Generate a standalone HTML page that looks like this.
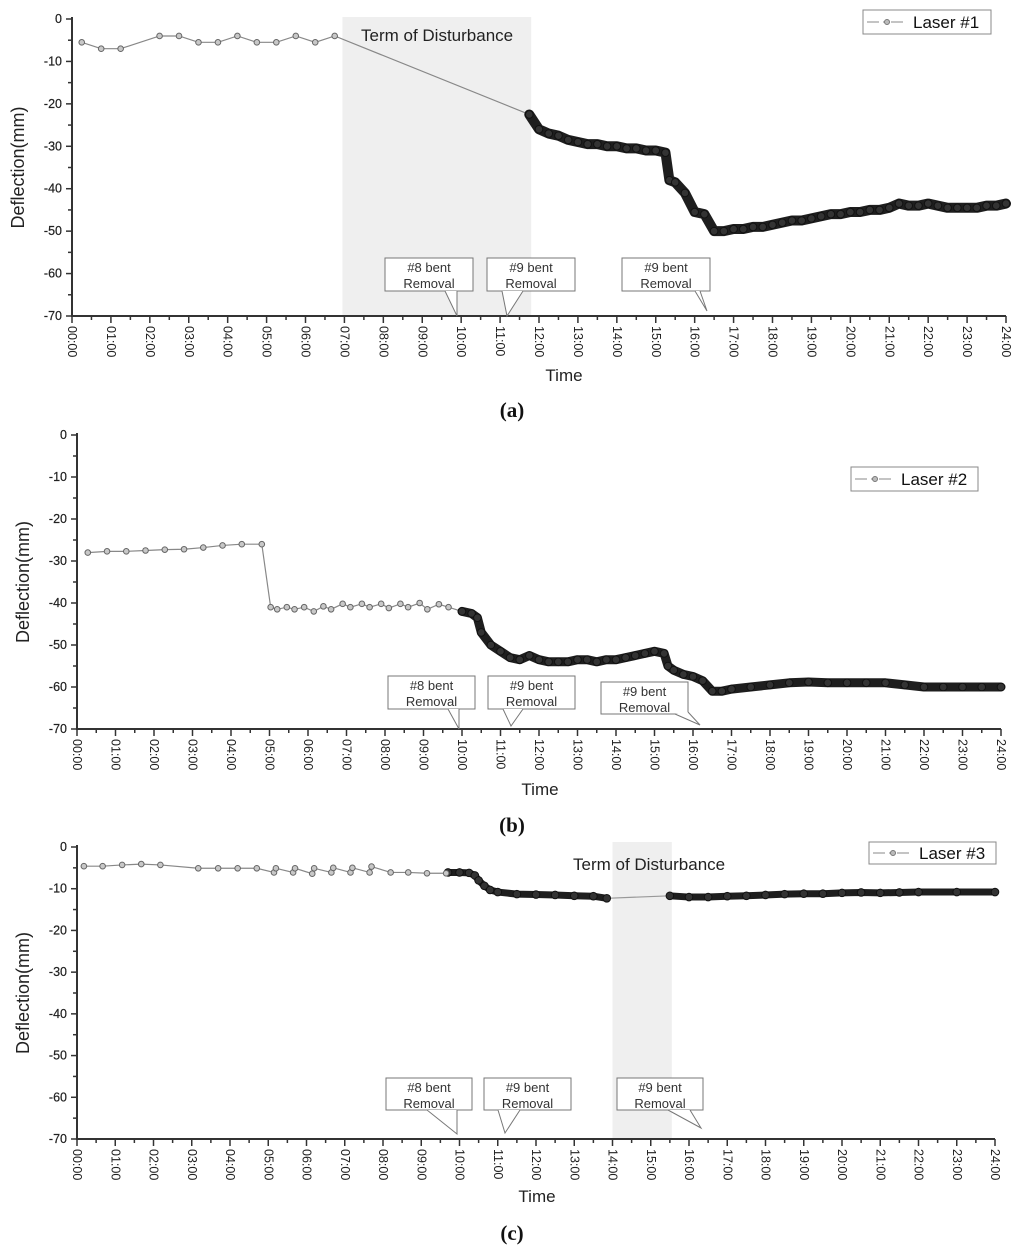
<!DOCTYPE html>
<html><head><meta charset="utf-8"><style>
html,body{margin:0;padding:0;background:#fff}
svg{display:block;font-family:"Liberation Sans",sans-serif}
</style></head><body>
<svg id="fig" width="1024" height="1255" viewBox="0 0 1024 1255" xmlns="http://www.w3.org/2000/svg"></svg>
<script>
// ---------- data ----------
const hourTicks = ["00:00","01:00","02:00","03:00","04:00","05:00","06:00","07:00","08:00","09:00","10:00","11:00","12:00","13:00","14:00","15:00","16:00","17:00","18:00","19:00","20:00","21:00","22:00","23:00","24:00"];
const yTicks = [0,-10,-20,-30,-40,-50,-60,-70];

// Panel (a) Laser #1
const aSparseT = [0.25,0.75,1.25,2.25,2.75,3.25,3.75,4.25,4.75,5.25,5.75,6.25,6.75];
const aSparseV = [-5.5,-7,-7,-4,-4,-5.5,-5.5,-4,-5.5,-5.5,-4,-5.5,-4];
const aDenseT = [11.75,12.0,12.25,12.5,12.75,13.0,13.25,13.5,13.75,14.0,14.25,14.5,14.75,15.0,15.25,15.35,15.5,15.75,16.0,16.25,16.5,16.75,17.0,17.25,17.5,17.75,18.0,18.25,18.5,18.75,19.0,19.25,19.5,19.75,20.0,20.25,20.5,20.75,21.0,21.25,21.5,21.75,22.0,22.25,22.5,22.75,23.0,23.25,23.5,23.75,24.0];
const aDenseV = [-22.5,-26,-27,-27.5,-28.5,-29,-29.5,-29.5,-30,-30,-30.5,-30.5,-31,-31,-31.5,-38,-38.5,-41,-45.5,-46,-50,-50,-49.5,-49.5,-49,-49,-48.5,-48,-47.5,-47.5,-47,-46.5,-46,-46,-45.5,-45.5,-45,-45,-44.5,-43.5,-44,-44,-43.5,-44,-44.5,-44.5,-44.5,-44.5,-44,-44,-43.5];
const aShade = [6.95,11.8];

// Panel (b) Laser #2
const bSparseT = [0.28,0.78,1.28,1.78,2.28,2.78,3.28,3.78,4.28,4.8,5.03,5.2,5.45,5.65,5.9,6.15,6.4,6.6,6.9,7.1,7.4,7.6,7.9,8.1,8.4,8.6,8.9,9.1,9.4,9.65];
const bSparseV = [-28,-27.7,-27.7,-27.5,-27.3,-27.2,-26.8,-26.3,-26,-26,-41,-41.5,-41,-41.5,-41,-42,-40.8,-41.5,-40.2,-41,-40.2,-41,-40.2,-41.2,-40.2,-41,-40,-41.5,-40.3,-41];
const bDenseT = [10.0,10.25,10.4,10.5,10.75,11.0,11.25,11.5,11.75,12.0,12.25,12.5,12.75,13.0,13.25,13.5,13.75,14.0,14.25,14.5,14.75,15.0,15.25,15.35,15.5,15.75,16.0,16.25,16.5,16.75,17.0,17.5,18.0,18.5,19.0,19.5,20.0,20.5,21.0,21.5,22.0,22.5,23.0,23.5,24.0];
const bDenseV = [-42,-42.5,-43.5,-47,-50,-51.5,-53,-53.5,-52.5,-53.5,-54,-54,-54,-53.5,-53.5,-54,-53.5,-53.5,-53,-52.5,-52,-51.5,-52,-55,-56,-57,-57.5,-58.5,-61,-61,-60.5,-60,-59.5,-59,-58.8,-59,-59,-59,-59,-59.5,-60,-60,-60,-60,-60];

// Panel (c) Laser #3
const cSparseT = [0.18,0.67,1.18,1.68,2.18,3.17,3.69,4.2,4.7,5.15,5.2,5.65,5.7,6.15,6.2,6.65,6.7,7.15,7.2,7.65,7.7,8.2,8.66,9.15,9.65];
const cSparseV = [-4.6,-4.6,-4.3,-4.1,-4.3,-5.1,-5.1,-5.1,-5.1,-6.1,-5.1,-6.1,-5.1,-6.4,-5.1,-6.1,-5.0,-6.1,-5.0,-6.1,-4.7,-6.1,-6.1,-6.3,-6.3];
const cDenseT = [9.7,10.0,10.25,10.4,10.5,10.65,10.8,11.0,11.5,12.0,12.5,13.0,13.5,13.85,15.5,16.0,16.5,17.0,17.5,18.0,18.5,19.0,19.5,20.0,20.5,21.0,21.5,22.0,23.0,24.0];
const cDenseV = [-6.1,-6.1,-6.2,-6.8,-8,-9.3,-10.3,-10.8,-11.3,-11.4,-11.5,-11.7,-11.8,-12.3,-11.7,-12.0,-12.0,-11.8,-11.7,-11.5,-11.3,-11.2,-11.2,-11.0,-10.9,-11.0,-10.9,-10.8,-10.8,-10.8];
const cGap = [13.85,15.5];
const cShade = [14.0,15.55];

// ---------- drawing ----------
const NS = "http://www.w3.org/2000/svg";
const svg = document.getElementById("fig");
function mk(tag, attrs, parent, text){
  const e = document.createElementNS(NS, tag);
  for (const k in attrs) e.setAttribute(k, attrs[k]);
  if (text !== undefined) e.textContent = text;
  (parent || svg).appendChild(e);
  return e;
}

function panel(p){
  const g = mk("g", {});
  
  
  const xs = h => p.x0 + (p.x1 - p.x0) * h / 24;
  const ys = v => p.y0 + (p.y1 - p.y0) * (-v) / 70;

  if (p.shade){
    const r = mk("rect", {x: xs(p.shade[0]), y: p.shadeTop, width: xs(p.shade[1]) - xs(p.shade[0]), height: p.y1 - p.shadeTop, fill: "#efefef"}, g);
    
    
    const t = mk("text", {x: p.termX, y: p.termY, "font-size": 17, fill: "#222"}, g, "Term of Disturbance");
    
    
  }

  const ax = mk("path", {d: `M${p.x0},${p.y0-2} V${p.y1} H${p.x1}`, stroke: "#333", "stroke-width": 2, fill: "none"}, g);
  
  
  for (let v = 0; v >= -70; v -= 5){
    const major = v % 10 === 0;
    mk("line", {x1: p.x0 - (major ? 6 : 4), x2: p.x0, y1: ys(v), y2: ys(v), stroke: "#333", "stroke-width": 1.5}, g);
  }
  yTicks.forEach(v => {
    const t = mk("text", {x: p.x0 - 10, y: ys(v) + 4, "font-size": 12.5, "text-anchor": "end", fill: "#222", "stroke": "#222", "stroke-width": 0.2}, g, String(v));
    
    
  });
  for (let h = 0; h <= 24; h += 0.5){
    const major = h % 1 === 0;
    mk("line", {x1: xs(h), x2: xs(h), y1: p.y1, y2: p.y1 + (major ? 7 : 4), stroke: "#333", "stroke-width": 1.5}, g);
  }
  hourTicks.forEach((lab, i) => {
    const x = xs(i), y = p.y1 + 10;
    const t = mk("text", {x: x, y: y, "font-size": 12.5, fill: "#222", transform: `rotate(90 ${x} ${y})`, dy: 4}, g, lab);
    
    
  });
  const yt = mk("text", {x: 0, y: 0, "font-size": 18, "text-anchor": "middle", fill: "#222", transform: `translate(${p.x0-48},${(p.y0+p.y1)/2}) rotate(-90)`}, g, "Deflection(mm)");
  
  
  const xt = mk("text", {x: p.timeX, y: p.timeY, "font-size": 17, "text-anchor": "middle", fill: "#222"}, g, "Time");
  
  

  p.callouts.forEach((c, i) => {
    const cg = mk("g", {}, g);
    
    
    mk("rect", {x: c.x, y: c.y, width: c.w, height: c.h, fill: "#fff", stroke: "#777", "stroke-width": 1}, cg);
    mk("polyline", {points: c.tail, fill: "#fff", stroke: "#777", "stroke-width": 1}, cg);
    mk("text", {x: c.x + c.w/2, y: c.y + 14, "font-size": 13, "text-anchor": "middle", fill: "#333"}, cg, c.t1);
    mk("text", {x: c.x + c.w/2, y: c.y + 30, "font-size": 13, "text-anchor": "middle", fill: "#333"}, cg, "Removal");
  });

  const sp = p.sT.map((t, i) => `${xs(t)},${ys(p.sV[i])}`);
  const dpts = p.dT.map((t, i) => [xs(t), ys(p.dV[i])]);
  const line = mk("polyline", {points: sp.concat([`${dpts[0][0]},${dpts[0][1]}`]).join(" "), fill: "none", stroke: "#888", "stroke-width": 1.2}, g);
  
  
  let segs = [[]];
  p.dT.forEach((t, i) => {
    if (p.gap && t === p.gap[1]) segs.push([]);
    segs[segs.length-1].push(dpts[i]);
  });
  if (p.gap){
    const gi = p.dT.indexOf(p.gap[0]), gj = p.dT.indexOf(p.gap[1]);
    mk("line", {x1: dpts[gi][0], y1: dpts[gi][1], x2: dpts[gj][0], y2: dpts[gj][1], stroke: "#999", "stroke-width": 1.2}, g);
  }
  segs.forEach(s => {
    const b = mk("polyline", {points: s.map(q => q.join(",")).join(" "), fill: "none", stroke: "#1e1e1e", "stroke-width": p.band, "stroke-linejoin": "round", "stroke-linecap": "round"}, g);
    
    
  });
  dpts.forEach(q => {
    const c = mk("circle", {cx: q[0], cy: q[1], r: 3.8, fill: "#333", stroke: "#111", "stroke-width": 1}, g);
    
    
  });
  p.sT.forEach((t, i) => {
    const c = mk("circle", {cx: xs(t), cy: ys(p.sV[i]), r: 2.8, fill: "#c8c8c8", stroke: "#666", "stroke-width": 1}, g);
    
    
  });

  const lg = mk("g", {}, g);
  
  
  const L = p.legend;
  mk("rect", {x: L.x, y: L.y, width: L.w, height: L.h, fill: "#fff", stroke: "#888", "stroke-width": 1}, lg);
  mk("line", {x1: L.x + 4, x2: L.x + 44, y1: L.y + L.h/2, y2: L.y + L.h/2, stroke: "#888", "stroke-width": 1, "stroke-dasharray": "12 4 4 4"}, lg);
  mk("circle", {cx: L.x + 24, cy: L.y + L.h/2, r: 2.5, fill: "#bbb", stroke: "#777"}, lg);
  mk("text", {x: L.x + 50, y: L.y + L.h/2 + 6, "font-size": 17, fill: "#111"}, lg, p.label);

  const cap = mk("text", {x: p.capX, y: p.capY, "font-size": 21, "font-weight": "bold", "text-anchor": "middle", "font-family": "Liberation Serif, serif", fill: "#111"}, g, p.cap);
  
  
}

panel({name: "panel-a", x0: 72, x1: 1006, y0: 19, y1: 316, sT: aSparseT, sV: aSparseV, dT: aDenseT, dV: aDenseV, band: 10,
  shade: aShade, shadeTop: 17, termX: 361, termY: 41, timeX: 564, timeY: 381,
  label: "Laser #1", legend: {x: 863, y: 10, w: 128, h: 24}, cap: "(a)", capX: 512, capY: 417,
  callouts: [
    {x: 385, y: 258, w: 88, h: 33, t1: "#8 bent", tail: "445,291 457,316 457,291"},
    {x: 487, y: 258, w: 88, h: 33, t1: "#9 bent", tail: "502,291 507,316 523,291"},
    {x: 622, y: 258, w: 88, h: 33, t1: "#9 bent", tail: "695,291 707,311 700,291"}]});

panel({name: "panel-b", x0: 77, x1: 1001, y0: 435, y1: 729, sT: bSparseT, sV: bSparseV, dT: bDenseT, dV: bDenseV, band: 9,
  timeX: 540, timeY: 795,
  label: "Laser #2", legend: {x: 851, y: 467, w: 127, h: 24}, cap: "(b)", capX: 512, capY: 832,
  callouts: [
    {x: 388, y: 676, w: 87, h: 33, t1: "#8 bent", tail: "448,709 459,729 459,709"},
    {x: 488, y: 676, w: 87, h: 33, t1: "#9 bent", tail: "503,709 511,726 523,709"},
    {x: 601, y: 682, w: 87, h: 32, t1: "#9 bent", tail: "675,714 700,725 688,712"}]});

panel({name: "panel-c", x0: 77, x1: 995, y0: 847, y1: 1139, sT: cSparseT, sV: cSparseV, dT: cDenseT, dV: cDenseV, band: 7, gap: cGap,
  shade: cShade, shadeTop: 842, termX: 573, termY: 870, timeX: 537, timeY: 1202,
  label: "Laser #3", legend: {x: 869, y: 842, w: 127, h: 22}, cap: "(c)", capX: 512, capY: 1240,
  callouts: [
    {x: 386, y: 1078, w: 86, h: 32, t1: "#8 bent", tail: "427,1110 457,1134 457,1110"},
    {x: 484, y: 1078, w: 87, h: 32, t1: "#9 bent", tail: "498,1110 505,1133 520,1110"},
    {x: 617, y: 1078, w: 86, h: 32, t1: "#9 bent", tail: "668,1110 701,1128 690,1110"}]});
</script>
</body></html>
